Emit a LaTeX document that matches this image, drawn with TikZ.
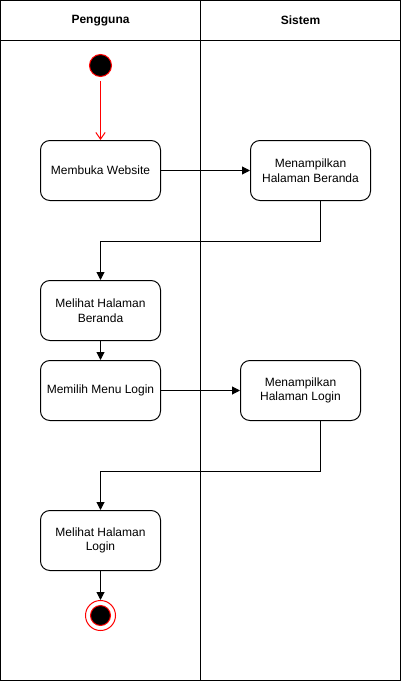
\documentclass[tikz,border=0pt]{standalone}
\usepackage{fontspec}
\setmainfont{Liberation Sans}
\usetikzlibrary{arrows.meta,positioning}

\begin{document}
\begin{tikzpicture}[x=0.75pt, y=-0.75pt, line width=0.75pt,
   activity/.style={rectangle, rounded corners=7pt, draw=black, minimum width=90pt, minimum height=45pt, align=center, font=\small},
   flow/.style={-{Triangle[length=6pt, width=6pt]}},
   lanehead/.style={font=\small\bfseries}]
   \useasboundingbox (-0.5,-0.5) rectangle (400.5,680.5);
   % swimlanes
   \draw (0,0) rectangle (400,680);
   \draw (0,40) -- (400,40);
   \draw (200,0) -- (200,680);
   \node[lanehead] (pengguna) at (100,20) {Pengguna};
   \node[lanehead] (sistem) at (300,20) {Sistem};
   % start and end
   \node[circle, fill=black, draw=red, minimum size=16.5pt, inner sep=0pt] (start) at (100,65) {};
   \node[circle, draw=red, minimum size=22.5pt, inner sep=0pt] (stop) at (100,615) {};
   \node[circle, fill=black, draw=red, minimum size=15pt, inner sep=0pt] (stopdot) at (100,615) {};
   % activities
   \node[activity] (website) at (100,170) {Membuka Website};
   \node[activity] (beranda) at (310,170) {Menampilkan\\Halaman Beranda};
   \node[activity] (lihatberanda) at (100,310) {Melihat Halaman\\Beranda};
   \node[activity, below=14.25pt of lihatberanda] (menulogin) {Memilih Menu Login};
   \node[activity] (login) at (300,390) {Menampilkan\\Halaman Login};
   \node[activity] (lihatlogin) at (100,540) {Melihat Halaman\\Login};
   \coordinate (berandaout) at ([xshift=7.5pt]beranda.south);
   \coordinate (loginout) at ([xshift=15pt]login.south);
   % flows
   \draw[red, -{Straight Barb[length=5pt, width=7pt]}] ([yshift=-3pt]start.south) -- (website);
   \draw[flow] (website) -- (beranda);
   \draw[flow] (berandaout) -- ++(0,40) -| (lihatberanda);
   \draw[flow] (lihatberanda) -- (menulogin);
   \draw[flow] (menulogin) -- (login);
   \draw[flow] (loginout) -- ++(0,50) -| (lihatlogin);
   \draw[flow] (lihatlogin) -- (stop);
\end{tikzpicture}
\end{document}
